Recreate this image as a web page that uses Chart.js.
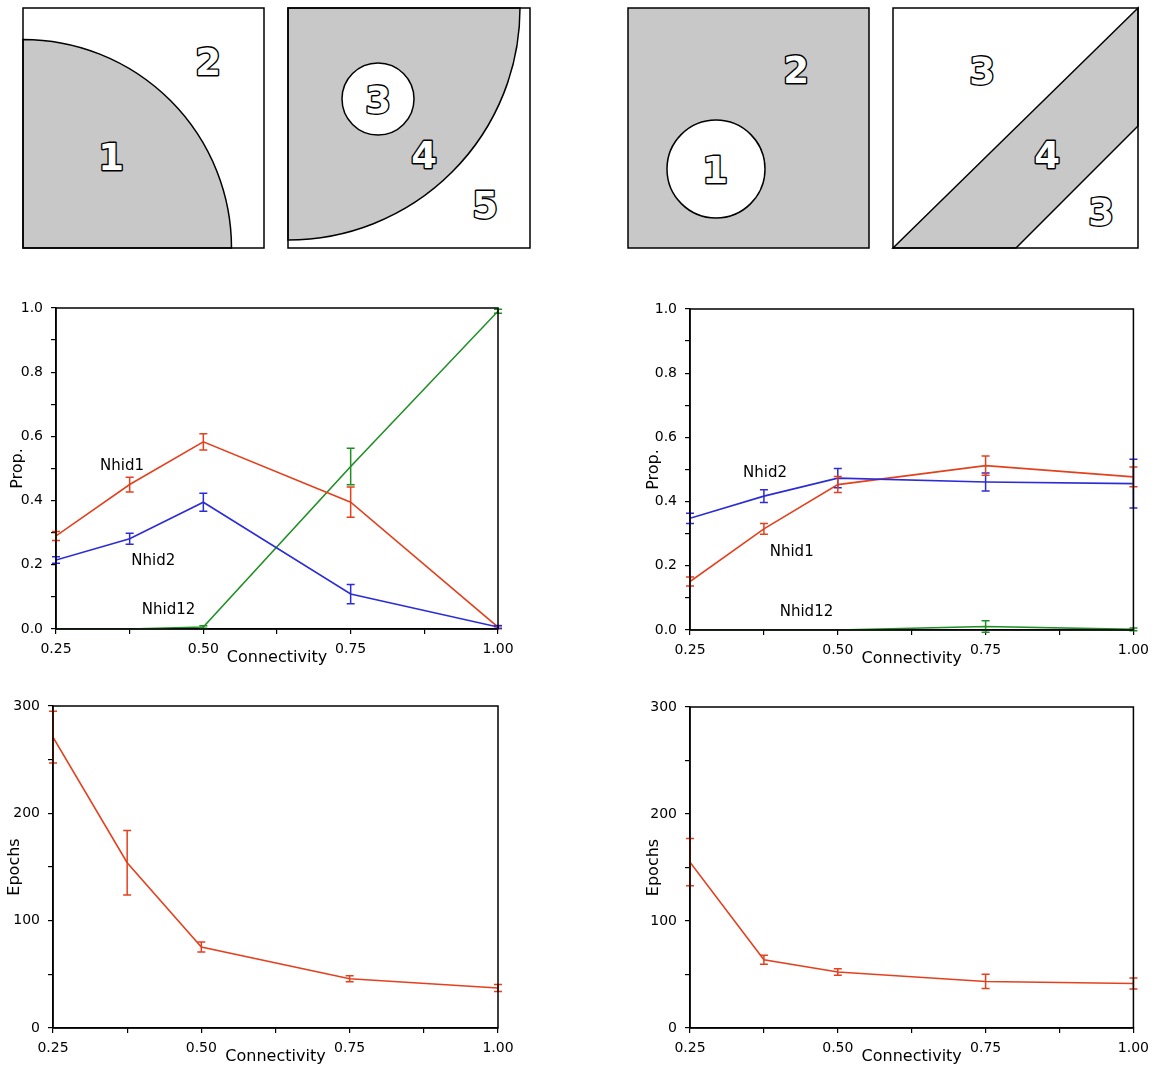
<!DOCTYPE html>
<html>
<head>
<meta charset="utf-8">
<script src="https://cdn.jsdelivr.net/npm/chart.js@4.4.1/dist/chart.umd.min.js"></script>
<style>
  body { margin: 0; background: #fff; }
  #page { position: relative; width: 1156px; height: 1069px; overflow: hidden; background: #fff; }
  #page canvas { position: absolute; }
  #diagrams { position: absolute; left: 0; top: 0; }
  .num { font-family: 'DejaVu Sans', sans-serif; font-weight: bold; font-size: 37px; fill: #fff; stroke: #000; stroke-width: 2.8; paint-order: stroke; stroke-linejoin: round; text-anchor: middle; dominant-baseline: central; }
</style>
</head>
<body>
<div id="page">
  <svg id="diagrams" width="1156" height="260" xmlns="http://www.w3.org/2000/svg">
    <!-- panel A -->
    <rect x="23" y="8" width="241" height="240" fill="#fff"/>
    <path d="M23,39.5 A208.5,208.5 0 0 1 231.5,248 L23,248 Z" fill="#c8c8c8" stroke="#000" stroke-width="1.5"/>
    <rect x="23" y="8" width="241" height="240" fill="none" stroke="#000" stroke-width="1.5"/>
    <text class="num" x="111" y="157">1</text>
    <text class="num" x="208" y="62">2</text>
    <!-- panel B -->
    <rect x="288" y="8" width="242" height="240" fill="#fff"/>
    <path d="M288,8 L520,8 A232,232 0 0 1 288,240 Z" fill="#c8c8c8" stroke="#000" stroke-width="1.5"/>
    <circle cx="378" cy="99" r="36" fill="#fff" stroke="#000" stroke-width="1.5"/>
    <rect x="288" y="8" width="242" height="240" fill="none" stroke="#000" stroke-width="1.5"/>
    <text class="num" x="378" y="100">3</text>
    <text class="num" x="424" y="155">4</text>
    <text class="num" x="485" y="205">5</text>
    <!-- panel C -->
    <rect x="628" y="8" width="241" height="240" fill="#c8c8c8" stroke="#000" stroke-width="1.5"/>
    <circle cx="716" cy="169" r="49" fill="#fff" stroke="#000" stroke-width="1.5"/>
    <text class="num" x="715" y="170">1</text>
    <text class="num" x="796" y="70">2</text>
    <!-- panel D -->
    <rect x="893" y="8" width="245" height="240" fill="#fff"/>
    <path d="M893,248 L1138,8 L1138,126 L1016,248 Z" fill="#c8c8c8" stroke="#000" stroke-width="1.5"/>
    <rect x="893" y="8" width="245" height="240" fill="none" stroke="#000" stroke-width="1.5"/>
    <text class="num" x="982" y="71">3</text>
    <text class="num" x="1047" y="155">4</text>
    <text class="num" x="1101" y="212">3</text>
  </svg>
  <canvas id="propLeft" width="530" height="385" style="left:0px;top:290px"></canvas>
  <canvas id="propRight" width="536" height="384" style="left:620px;top:291px"></canvas>
  <canvas id="epochLeft" width="530" height="381" style="left:0px;top:688px"></canvas>
  <canvas id="epochRight" width="536" height="380" style="left:620px;top:689px"></canvas>
</div>
<script>
'use strict';

// x positions shared by every panel
let connectivity = [0.25, 0.375, 0.5, 0.75, 1.0];

// left column, proportions
let leftNhid1 = [0.29, 0.45, 0.583, 0.395, 0.006];
let leftNhid1Err = [0.014, 0.023, 0.025, 0.047, 0.005];
let leftNhid2 = [0.215, 0.281, 0.395, 0.109, 0.006];
let leftNhid2Err = [0.01, 0.017, 0.028, 0.03, 0.004];
let leftNhid12 = [0, 0, 0.006, 0.506, 0.99];
let leftNhid12Err = [0, 0, 0.004, 0.057, 0.006];

// right column, proportions
let rightNhid1 = [0.151, 0.315, 0.453, 0.512, 0.477];
let rightNhid1Err = [0.014, 0.017, 0.025, 0.03, 0.031];
let rightNhid2 = [0.348, 0.417, 0.473, 0.461, 0.456];
let rightNhid2Err = [0.016, 0.02, 0.03, 0.028, 0.076];
let rightNhid12 = [0, 0, 0, 0.011, 0.002];
let rightNhid12Err = [0, 0, 0, 0.018, 0.004];

// epochs
let leftEpochs = [271, 154, 75.4, 45.9, 37.2];
let leftEpochsErr = [24, 30, 4.7, 2.8, 3.3];
let rightEpochs = [155, 63.8, 52.3, 43.5, 41.6];
let rightEpochsErr = [22, 4.2, 3.1, 6.7, 5.1];

// series labels written inside the prop panels (data coordinates)
let seriesNames = ['Nhid1', 'Nhid2', 'Nhid12'];
let leftLabelX = [0.362, 0.415, 0.441];
let leftLabelY = [0.508, 0.21, 0.06];
let rightLabelX = [0.422, 0.377, 0.447];
let rightLabelY = [0.242, 0.489, 0.055];

let red = '#e3411e';
let blue = '#2c2cd6';
let green = '#1f8f23';
let fontFamily = "'DejaVu Sans', sans-serif";

function points(vals) {
    return connectivity.map((c, i) => ({ x: c, y: vals[i] }));
}

function series(vals, errs, color) {
    return {
        data: points(vals),
        errors: errs,
        borderColor: color,
        backgroundColor: color,
        borderWidth: 1.6,
        pointRadius: 0,
        tension: 0
    };
}

let frame = {
    id: 'frame',
    afterDraw(chart) {
        let a = chart.chartArea;
        let ctx = chart.ctx;
        ctx.save();
        ctx.strokeStyle = '#000';
        ctx.lineWidth = 1.5;
        ctx.strokeRect(a.left, a.top, a.right - a.left, a.bottom - a.top);
        ctx.restore();
    }
};

let errorBars = {
    id: 'errorBars',
    afterDatasetsDraw(chart) {
        let ctx = chart.ctx;
        let xs = chart.scales.x;
        let ys = chart.scales.y;
        chart.data.datasets.forEach(ds => {
            ctx.save();
            ctx.strokeStyle = ds.borderColor;
            ctx.lineWidth = 1.5;
            ds.data.forEach((p, j) => {
                let e = ds.errors[j];
                if (!e) return;
                let x = xs.getPixelForValue(p.x);
                let y1 = ys.getPixelForValue(p.y - e);
                let y2 = ys.getPixelForValue(p.y + e);
                ctx.beginPath();
                ctx.moveTo(x, y1);
                ctx.lineTo(x, y2);
                ctx.moveTo(x - 4, y1);
                ctx.lineTo(x + 4, y1);
                ctx.moveTo(x - 4, y2);
                ctx.lineTo(x + 4, y2);
                ctx.stroke();
            });
            ctx.restore();
        });
    }
};

let seriesLabels = {
    id: 'seriesLabels',
    afterDatasetsDraw(chart, args, opts) {
        if (!opts.names) return;
        let ctx = chart.ctx;
        ctx.save();
        ctx.font = '15px ' + fontFamily;
        ctx.textAlign = 'center';
        ctx.textBaseline = 'middle';
        opts.names.forEach((name, i) => {
            let x = chart.scales.x.getPixelForValue(opts.xs[i]);
            let y = chart.scales.y.getPixelForValue(opts.ys[i]);
            let w = ctx.measureText(name).width;
            ctx.fillStyle = '#fff';
            ctx.fillRect(x - w / 2 - 2, y - 8, w + 4, 16);
            ctx.fillStyle = '#000';
            ctx.fillText(name, x, y);
        });
        ctx.restore();
    }
};

function makeChart(id, cfg) {
    return new Chart(document.getElementById(id), {
        type: 'line',
        data: { datasets: cfg.datasets },
        options: {
            responsive: false,
            animation: false,
            layout: { padding: cfg.padding },
            plugins: {
                legend: { display: false },
                tooltip: { enabled: false },
                seriesLabels: cfg.labels || {}
            },
            scales: {
                x: {
                    type: 'linear',
                    min: 0.25,
                    max: 1,
                    afterFit: s => { s.height = 40; },
                    ticks: {
                        stepSize: 0.125,
                        autoSkip: false,
                        maxRotation: 0,
                        padding: 7,
                        color: '#000',
                        font: { family: fontFamily, size: 14 },
                        callback: v => Math.abs(v * 4 - Math.round(v * 4)) < 1e-6 ? v.toFixed(2) : ''
                    },
                    grid: { drawOnChartArea: false, tickLength: 5, color: '#000', lineWidth: 1.2 },
                    border: { color: '#000', width: 1.5 },
                    title: {
                        display: true,
                        text: 'Connectivity',
                        color: '#000',
                        font: { family: fontFamily, size: 16 },
                        padding: { top: 0, bottom: 2 }
                    }
                },
                y: {
                    min: cfg.yMin,
                    max: cfg.yMax,
                    afterFit: s => { s.width = cfg.yWidth; },
                    ticks: {
                        stepSize: cfg.yStep,
                        autoSkip: false,
                        padding: 8,
                        color: '#000',
                        font: { family: fontFamily, size: 14 },
                        callback: cfg.yFormat
                    },
                    grid: { drawOnChartArea: false, tickLength: 5, color: '#000', lineWidth: 1.2 },
                    border: { color: '#000', width: 1.5 },
                    title: {
                        display: true,
                        text: cfg.yTitle,
                        color: '#000',
                        font: { family: fontFamily, size: 16 },
                        padding: { top: cfg.yTitlePad, bottom: 0 }
                    }
                }
            }
        },
        plugins: [frame, errorBars, seriesLabels]
    });
}

let propFormat = v => Math.round(v * 10) % 2 === 0 ? v.toFixed(1) : '';
let epochFormat = v => v % 100 === 0 ? String(v) : '';

makeChart('propLeft', {
    datasets: [
        series(leftNhid1, leftNhid1Err, red),
        series(leftNhid2, leftNhid2Err, blue),
        series(leftNhid12, leftNhid12Err, green)
    ],
    labels: { names: seriesNames, xs: leftLabelX, ys: leftLabelY },
    padding: { left: 0, right: 32, top: 18, bottom: 6 },
    yWidth: 56, yMin: 0, yMax: 1, yStep: 0.1, yFormat: propFormat,
    yTitle: 'Prop.', yTitlePad: 8
});

makeChart('propRight', {
    datasets: [
        series(rightNhid2, rightNhid2Err, blue),
        series(rightNhid1, rightNhid1Err, red),
        series(rightNhid12, rightNhid12Err, green)
    ],
    labels: { names: seriesNames, xs: rightLabelX, ys: rightLabelY },
    padding: { left: 0, right: 22, top: 18, bottom: 5 },
    yWidth: 70, yMin: 0, yMax: 1, yStep: 0.1, yFormat: propFormat,
    yTitle: 'Prop.', yTitlePad: 24
});

makeChart('epochLeft', {
    datasets: [series(leftEpochs, leftEpochsErr, red)],
    padding: { left: 0, right: 32, top: 18, bottom: 1 },
    yWidth: 53, yMin: 0, yMax: 300, yStep: 50, yFormat: epochFormat,
    yTitle: 'Epochs', yTitlePad: 5
});

makeChart('epochRight', {
    datasets: [series(rightEpochs, rightEpochsErr, red)],
    padding: { left: 0, right: 20, top: 18, bottom: 1 },
    yWidth: 70, yMin: 0, yMax: 300, yStep: 50, yFormat: epochFormat,
    yTitle: 'Epochs', yTitlePad: 24
});
</script>
</body>
</html>
